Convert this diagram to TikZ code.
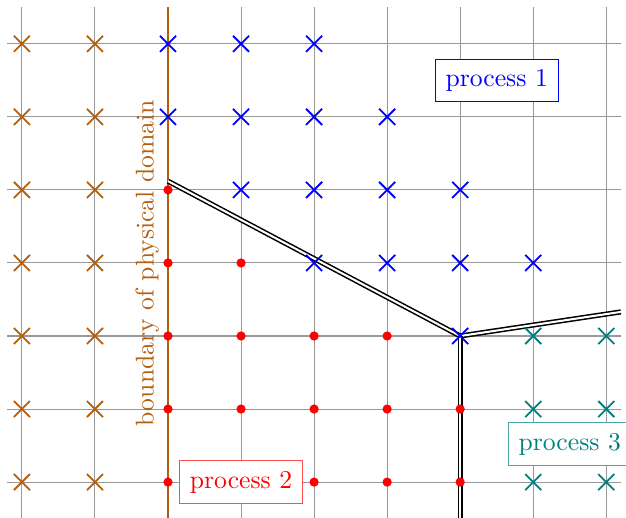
\documentclass[tikz,border=0pt]{standalone}
\usepackage{xcolor}
\usepackage{tikz}
\usetikzlibrary{positioning,calc}

\definecolor{domainbrown}{RGB}{180,95,15}

\tikzset{
  gridline/.style={gray!80, line width=0.4pt},
  cutline/.style={double, line width=0.6pt, double distance=0.8pt},
  procbox/.style={draw, fill=white, inner sep=4pt},
}

% cross marker of half size 0.11
\newcommand{\cellcross}[2]{%
  \draw[#1, line width=0.7pt] ($(#2)+(-0.11,-0.11)$) -- ($(#2)+(0.11,0.11)$)
    ($(#2)+(-0.11,0.11)$) -- ($(#2)+(0.11,-0.11)$);}

\begin{document}
\begin{tikzpicture}
    \useasboundingbox (-0.3,-0.48) rectangle (8.27,6.6);

    % mesh
    \draw[gridline] (-0.2,-0.5) grid (8.2,6.5);

    % boundary of the physical domain
    \coordinate (bndtop) at (2,6.5);
    \coordinate (bndbot) at (2,-0.5);
    \draw[domainbrown, semithick] (bndtop) -- (bndbot);
    \node[rotate=90, anchor=south, text=domainbrown] (bndlabel) at (2,3)
        {boundary of physical domain};

    % process borders
    \coordinate (cutwest) at (2,4.12);
    \coordinate (junction) at (6,2);
    \coordinate (cuteast) at (8.2,2.33);
    \coordinate (cutsouth) at (6,-0.5);
    \draw[cutline] (cutwest) -- (junction) -- (cuteast);
    \draw[cutline] (junction) -- (cutsouth);

    % ghost cells
    \foreach \i in {0,1}
        \foreach \j in {0,...,6}
            \cellcross{domainbrown}{\i,\j};

    % process 1 cells
    \foreach \p in {{2,6},{3,6},{4,6},{2,5},{3,5},{4,5},{5,5},
                    {3,4},{4,4},{5,4},{6,4},{4,3},{5,3},{6,3},{7,3},{6,2}}
        \cellcross{blue}{\p};

    % process 3 cells
    \foreach \p in {{7,2},{8,2},{7,1},{8,1},{7,0},{8,0}}
        \cellcross{teal}{\p};

    % process 2 cells
    \foreach \p in {{2,4},{2,3},{3,3},{2,2},{3,2},{4,2},{5,2},
                    {2,1},{3,1},{4,1},{5,1},{6,1},{2,0},{4,0},{5,0},{6,0}}
        \fill[red] (\p) circle (1.8pt);

    % labels
    \node[procbox, draw=blue, text=blue] (proc1) at (6.5,5.5) {process 1};
    \node[procbox, draw=red!70, text=red] (proc2) at (3,0) {process 2};
    \node[procbox, draw=teal!70, text=teal] (proc3) at (7.5,0.52) {process 3};
\end{tikzpicture}
\end{document}
